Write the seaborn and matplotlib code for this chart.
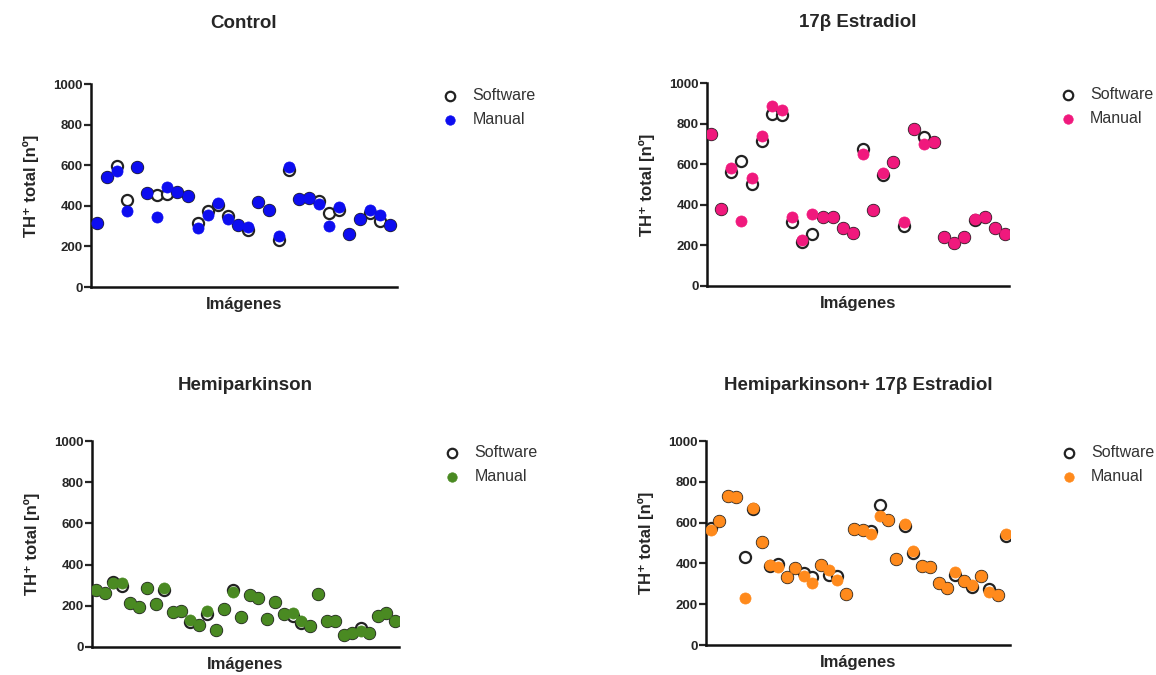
import numpy as np
import pandas as pd
import matplotlib
matplotlib.use("Agg")
import matplotlib.pyplot as plt
import seaborn as sns

# values (TH+ counts per image)
ctrl_software = [317, 540, 595, 427, 590, 464, 455, 460, 469, 447, 315, 376, 405, 348, 307,
                 279, 419, 381, 233, 576, 434, 439, 422, 365, 381, 261, 335, 365, 327, 307]
ctrl_manual = [317, 540, 570, 373, 590, 464, 343, 492, 469, 447, 290, 353, 415, 337, 307,
               295, 419, 381, 249, 591, 434, 439, 411, 303, 393, 261, 335, 381, 356, 307]

e2_software = [749, 379, 560, 617, 502, 716, 848, 843, 313, 217, 258, 341, 341, 288, 263,
               675, 374, 548, 609, 297, 774, 733, 708, 239, 214, 239, 324, 341, 288, 255]
e2_manual = [749, 379, 581, 321, 530, 741, 885, 869, 341, 225, 354, 341, 341, 288, 263,
             650, 374, 555, 609, 316, 774, 700, 708, 239, 214, 239, 330, 341, 288, 255]

hemi_software = [276, 264, 314, 297, 213, 193, 287, 210, 276, 169, 173, 119, 107, 160, 82, 185,
                 276, 144, 251, 238, 135, 218, 160, 152, 116, 102, 259, 127, 127, 56, 66, 94,
                 69, 149, 165, 124]
hemi_manual = [276, 264, 309, 309, 213, 193, 287, 210, 287, 169, 173, 130, 107, 176, 82, 185,
               268, 144, 251, 238, 135, 218, 160, 165, 127, 102, 259, 127, 127, 56, 66, 77,
               69, 149, 165, 124]

he2_software = [573, 606, 729, 726, 430, 665, 504, 389, 397, 332, 376, 353, 332, 394, 343, 337,
                249, 570, 566, 561, 688, 611, 422, 583, 451, 386, 381, 302, 282, 343, 315, 287,
                337, 274, 244, 534]
he2_manual = [565, 606, 729, 726, 233, 673, 504, 392, 381, 332, 376, 337, 304, 394, 369, 318,
              249, 570, 566, 545, 635, 611, 422, 594, 463, 386, 381, 302, 282, 359, 315, 294,
              337, 261, 244, 545]

titles = ["Control", "17β Estradiol", "Hemiparkinson", "Hemiparkinson+ 17β Estradiol"]
colors = ["#0d0df0", "#f0197d", "#4a8a22", "#ff8a1c"]
y_ticks = [0, 200, 400, 600, 800, 1000]

sns.set_style("ticks")
plt.rcParams['font.family'] = ['Liberation Sans', 'DejaVu Sans']

fig = plt.figure(figsize=(11.56, 6.75), dpi=100)

# axes boxes in figure fractions [left, bottom, width, height]
boxes = [
    [0.0787, 0.5748, 0.2647, 0.3007],
    [0.6116, 0.5763, 0.2612, 0.3007],
    [0.0796, 0.0415, 0.2656, 0.3050],
    [0.6107, 0.0444, 0.2630, 0.3020],
]
xlims = [(0.45, 30.7), (0.6, 30.4), (0.53, 36.47), (0.4, 36.47)]
title_pads = [40, 40, 37, 37]
legend_x = [1.1, 1.12, 1.1, 1.12]

panels = [
    (ctrl_software, ctrl_manual),
    (e2_software, e2_manual),
    (hemi_software, hemi_manual),
    (he2_software, he2_manual),
]

for i, (soft, man) in enumerate(panels):
    ax = fig.add_axes(boxes[i])
    n = len(soft)
    df = pd.DataFrame({
        "Imagen": np.arange(1, n + 1),
        "Software": soft,
        "Manual": man,
    })
    # software: open rings, manual: filled points drawn on top
    sns.scatterplot(data=df, x="Imagen", y="Software", ax=ax, s=64, color="white",
                    edgecolor="#222222", linewidth=1.6, label="Software", zorder=3)
    sns.scatterplot(data=df, x="Imagen", y="Manual", ax=ax, s=64, color=colors[i],
                    edgecolor=colors[i], linewidth=0.5, label="Manual", zorder=4)

    ax.set_xlim(*xlims[i])
    ax.set_ylim(0, 1000)
    ax.set_yticks(y_ticks)
    ax.set_yticklabels([str(t) for t in y_ticks], fontsize=9.5, fontweight='bold')
    ax.set_xticks([])
    ax.tick_params(axis='y', length=5, width=1.6, direction='out', pad=1)
    for side in ['left', 'bottom']:
        ax.spines[side].set_linewidth(1.8)
        ax.spines[side].set_color('#111111')
    sns.despine(ax=ax)

    ax.set_xlabel("Imágenes", fontsize=12, fontweight='bold', labelpad=7)
    ax.set_ylabel("TH⁺ total [nº]", fontsize=12, fontweight='bold', labelpad=10)
    ax.set_title(titles[i], fontsize=13.5, fontweight='bold', pad=title_pads[i])

    leg = ax.legend(loc='upper left', bbox_to_anchor=(legend_x[i], 1.05), frameon=False,
                    fontsize=11.5, handlelength=1.0, handletextpad=0.9,
                    labelspacing=0.55, markerscale=0.85)
    for t in leg.get_texts():
        t.set_color('#333333')

fig.savefig("out.png", dpi=100)
